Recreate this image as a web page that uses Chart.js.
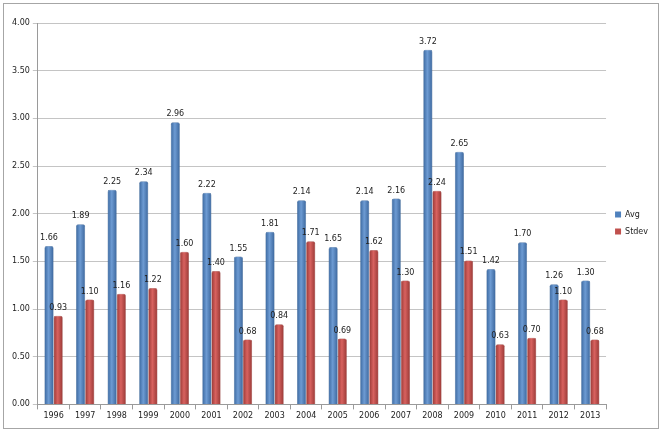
<!DOCTYPE html>
<html>
<head>
<meta charset="utf-8">
<script src="https://cdn.jsdelivr.net/npm/chart.js@4"></script>
<style>
  body { margin: 0; background: #fff; }
  #wrap { position: relative; width: 660px; height: 432px; }
  #frame { position: absolute; left: 3px; top: 3px; width: 654px; height: 424px; border: 1px solid #a6a6a6; }
  canvas { position: absolute; left: 0; top: 0; }
</style>
</head>
<body>
<div id="wrap">
  <div id="frame"></div>
  <canvas id="chart" width="660" height="432"></canvas>
</div>
<script>
// years on the x axis
const years = ['1996','1997','1998','1999','2000','2001','2002','2003','2004','2005','2006','2007','2008','2009','2010','2011','2012','2013'];
// series values
const avg   = [1.66, 1.89, 2.25, 2.34, 2.96, 2.22, 1.55, 1.81, 2.14, 1.65, 2.14, 2.16, 3.72, 2.65, 1.42, 1.70, 1.26, 1.30];
const stdev = [0.93, 1.10, 1.16, 1.22, 1.60, 1.40, 0.68, 0.84, 1.71, 0.69, 1.62, 1.30, 2.24, 1.51, 0.63, 0.70, 1.10, 0.68];
// y axis ticks
const yTicks = [0, 0.5, 1, 1.5, 2, 2.5, 3, 3.5, 4];

const CAT_PCT = 0.58;
const shades = [
  ['#3a679e', '#6d9bd3', '#3b669c'],
  ['#993835', '#d8625f', '#983835']
];

// cylinder-ish shading: gradient across the bar, placed from the x scale
function shade(c) {
  const chart = c.chart;
  const xs = chart.scales.x;
  if (!xs || !chart.chartArea) return shades[c.datasetIndex][1];
  const cat = xs.width / years.length;
  const w = cat * CAT_PCT / 2;
  const centre = xs.getPixelForValue(c.dataIndex);
  const l = c.datasetIndex === 0 ? centre - w : centre;
  const g = chart.ctx.createLinearGradient(l, 0, l + w, 0);
  const cols = shades[c.datasetIndex];
  g.addColorStop(0, cols[0]);
  g.addColorStop(0.45, cols[1]);
  g.addColorStop(1, cols[2]);
  return g;
}

// value labels on top of bars
const valueLabels = {
  id: 'valueLabels',
  afterDatasetsDraw(chart) {
    const ctx = chart.ctx;
    ctx.save();
    ctx.font = '8px "DejaVu Sans", sans-serif';
    ctx.fillStyle = '#222';
    ctx.textAlign = 'center';
    ctx.textBaseline = 'bottom';
    chart.data.datasets.forEach((ds, i) => {
      chart.getDatasetMeta(i).data.forEach((el, j) => {
        ctx.fillText(ds.data[j].toFixed(2), el.x, el.y - 4);
      });
    });
    ctx.restore();
  }
};

new Chart(document.getElementById('chart'), {
  type: 'bar',
  data: {
    labels: years,
    datasets: [
      { label: 'Avg', data: avg, backgroundColor: shade, borderColor: '#355e8f', borderWidth: 0.5, borderRadius: 2, borderSkipped: 'bottom' },
      { label: 'Stdev', data: stdev, backgroundColor: shade, borderColor: '#8f3835', borderWidth: 0.5, borderRadius: 2, borderSkipped: 'bottom' }
    ]
  },
  options: {
    responsive: false,
    animation: false,
    layout: { padding: { left: 9, top: 23, right: 2, bottom: 9 } },
    datasets: { bar: { categoryPercentage: CAT_PCT, barPercentage: 1 } },
    plugins: {
      legend: {
        position: 'right',
        labels: {
          boxWidth: 6, boxHeight: 6, padding: 9, color: '#222', font: { size: 8, family: 'DejaVu Sans' },
          generateLabels: chart => chart.data.datasets.map((ds, i) => ({
            text: ds.label, fillStyle: i === 0 ? '#4f81bd' : '#c0504d', strokeStyle: i === 0 ? '#4f81bd' : '#c0504d',
            lineWidth: 0, datasetIndex: i, fontColor: '#222'
          }))
        }
      },
      tooltip: { enabled: false }
    },
    scales: {
      x: {
        grid: { display: true, drawOnChartArea: false, offset: true, color: '#9a9a9a', tickLength: 5 },
        border: { color: '#9a9a9a' },
        ticks: { color: '#222', font: { size: 8, family: 'DejaVu Sans' }, maxRotation: 0, padding: 2 }
      },
      y: {
        min: 0, max: 4,
        afterBuildTicks: axis => { axis.ticks = yTicks.map(v => ({ value: v })); },
        grid: { color: '#c4c4c4', tickLength: 5 },
        border: { color: '#9a9a9a' },
        ticks: { color: '#222', font: { size: 8, family: 'DejaVu Sans' }, padding: 3, callback: v => Number(v).toFixed(2) }
      }
    }
  }
  ,
  plugins: [valueLabels]
});
</script>
</body>
</html>
